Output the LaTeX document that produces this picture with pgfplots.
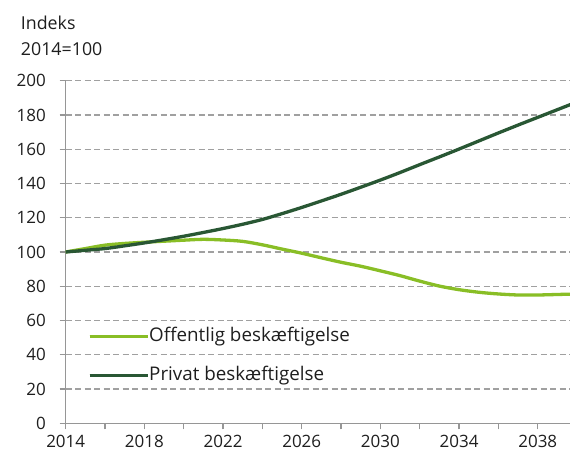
\documentclass[border=0pt]{standalone}
\usepackage{fontspec}
\setmainfont{Open Sans}
\usepackage{pgfplots}
\pgfplotsset{compat=1.18}
\definecolor{lightg}{RGB}{137,190,38}
\definecolor{darkg}{RGB}{41,87,52}
\definecolor{gridc}{RGB}{160,160,160}
\definecolor{axc}{RGB}{150,150,150}
\definecolor{txt}{RGB}{30,30,30}
\begin{document}
\fontsize{17bp}{20bp}\selectfont
\begin{tikzpicture}
\path[use as bounding box] (-65.7bp,-35.7bp) rectangle (504.3bp,423.3bp);
\begin{axis}[
  scale only axis, width=504.3bp, height=342.6bp,
  xmin=2014, xmax=2039.64, ymin=0, ymax=200,
  clip mode=individual,
  axis lines*=left,
  axis line style={axc, line width=1.2bp},
  tick style={axc, line width=1.2bp},
  tick align=outside, tick pos=left,
  major tick length=6bp, minor tick length=6bp,
  xtick={2014,2018,2022,2026,2030,2034,2038},
  xticklabels={2014,2018,2022,2026,2030,2034,2038},
  minor xtick={2016,2020,2024,2028,2032,2036},
  ytick={0,20,...,200},
  ymajorgrids,
  major grid style={gridc, line width=1.3bp, dash pattern=on 6bp off 3.5bp},
  /pgf/number format/assume math mode=true,
  ticklabel style={txt, font=\fontsize{17bp}{20bp}\selectfont},
  yticklabel style={xshift=-8bp},
  xticklabel style={yshift=-6bp, inner ysep=0pt},
  legend style={draw=none, fill=none, inner sep=0pt, at={(rel axis cs:0.0436,0.1959)}, anchor=west,
    nodes={inner sep=0pt, text height=13bp, text depth=4bp, txt, font=\fontsize{18.8bp}{22bp}\selectfont},
    row sep=22bp},
  legend cell align=left,
  legend image code/.code={\draw[#1] (0bp,0bp) -- (53bp,0bp); \path (0bp,0bp) -- (58bp,0bp);},
]
\addplot[lightg, line width=3.3bp, smooth] coordinates {
(2014,100) (2015,102) (2016,104) (2017,105) (2018,105.7) (2019,106.3) (2020,106.9)
(2021,107.4) (2022,107) (2023,106.2) (2024,104.2) (2025,101.7) (2026,99.3) (2027,96.6)
(2028,94) (2029,91.7) (2030,89) (2031,86.2) (2032,83) (2033,80.1) (2034,78) (2035,76.5)
(2036,75.5) (2037,74.9) (2038,74.9) (2039,75.2) (2040,75.5)};
\addlegendentry{Offentlig beskæftigelse}
\addplot[darkg, line width=3.3bp, smooth] coordinates {
(2014,100) (2015,101) (2016,102) (2017,103.6) (2018,105.3) (2019,107.2) (2020,109.2)
(2021,111.4) (2022,113.7) (2023,116.2) (2024,119) (2025,122.4) (2026,126) (2027,129.8)
(2028,133.7) (2029,137.8) (2030,142) (2031,146.4) (2032,151) (2033,155.5) (2034,160.1)
(2035,164.8) (2036,169.5) (2037,174.1) (2038,178.6) (2039,183.1) (2040,187.6)};
\addlegendentry{Privat beskæftigelse}
\node[anchor=base west, inner sep=0pt, txt, font=\fontsize{17.8bp}{20bp}\selectfont] at (axis description cs:-0.0892,1.148) {Indeks};
\node[anchor=base west, inner sep=0pt, txt, font=\fontsize{17.8bp}{20bp}\selectfont] at (axis description cs:-0.0892,1.0721) {2014=100};
\end{axis}
\end{tikzpicture}
\end{document}
